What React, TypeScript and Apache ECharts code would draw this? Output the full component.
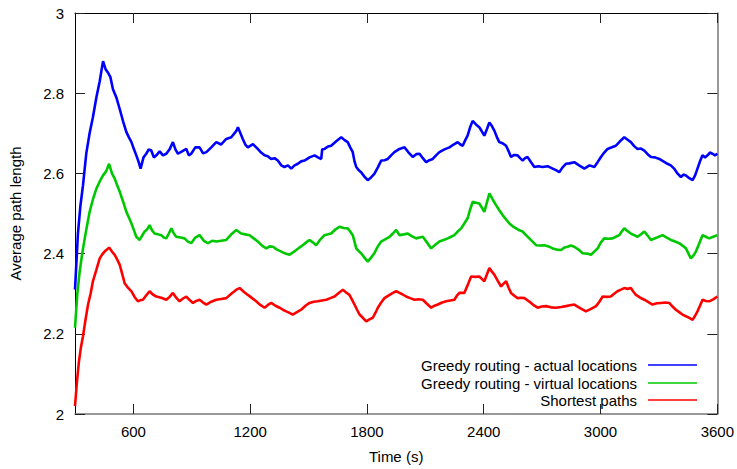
import React, { useEffect, useRef } from "react";
import * as echarts from "echarts";

const xTicks = [600, 1200, 1800, 2400, 3000, 3600];
const yTicks = [2, 2.2, 2.4, 2.6, 2.8, 3];

const seriesNames = [
  "Greedy routing - actual locations",
  "Greedy routing - virtual locations",
  "Shortest paths",
];
const seriesColors = ["#0000ff", "#00c800", "#ff0000"];

const actualLocations: [number, number][] = [
  [300,2.31],[315,2.45],[328,2.52],[341,2.57],[358,2.65],[375,2.70],[392,2.74],[410,2.79],[427,2.83],[444,2.88],[457,2.86],[470,2.851],[482,2.84],[495,2.81],[512,2.79],[530,2.76],[547,2.73],[564,2.703],[577,2.69],[590,2.678],[603,2.66],[615,2.645],[626,2.63],[637,2.612],[652,2.64],[666,2.649],[679,2.66],[692,2.657],[705,2.64],[718,2.645],[735,2.655],[752,2.645],[769,2.649],[786,2.66],[803,2.678],[816,2.66],[829,2.649],[850,2.655],[872,2.661],[885,2.645],[897,2.649],[918,2.665],[940,2.665],[958,2.65],[975,2.653],[1000,2.665],[1026,2.678],[1050,2.672],[1077,2.686],[1103,2.69],[1129,2.706],[1137,2.715],[1150,2.70],[1162,2.686],[1175,2.672],[1188,2.665],[1214,2.673],[1239,2.661],[1256,2.652],[1274,2.645],[1290,2.643],[1308,2.636],[1325,2.638],[1342,2.632],[1360,2.62],[1376,2.616],[1394,2.62],[1411,2.612],[1428,2.62],[1445,2.624],[1462,2.63],[1479,2.632],[1505,2.64],[1531,2.645],[1548,2.64],[1565,2.636],[1570,2.66],[1582,2.661],[1600,2.667],[1616,2.669],[1642,2.68],[1668,2.69],[1685,2.683],[1701,2.678],[1714,2.665],[1727,2.653],[1736,2.63],[1745,2.616],[1758,2.608],[1770,2.603],[1787,2.592],[1804,2.583],[1821,2.59],[1838,2.599],[1856,2.615],[1873,2.632],[1890,2.633],[1907,2.636],[1924,2.645],[1941,2.653],[1967,2.661],[1993,2.665],[2014,2.652],[2035,2.641],[2053,2.648],[2070,2.649],[2087,2.638],[2104,2.628],[2121,2.633],[2138,2.636],[2155,2.645],[2172,2.653],[2198,2.66],[2224,2.665],[2245,2.672],[2266,2.678],[2280,2.672],[2292,2.669],[2305,2.683],[2317,2.694],[2330,2.715],[2343,2.731],[2360,2.722],[2377,2.715],[2390,2.705],[2403,2.694],[2416,2.71],[2429,2.727],[2442,2.718],[2455,2.706],[2468,2.69],[2480,2.678],[2497,2.675],[2515,2.669],[2528,2.655],[2540,2.641],[2557,2.646],[2574,2.645],[2587,2.638],[2600,2.632],[2612,2.638],[2625,2.641],[2643,2.628],[2660,2.616],[2680,2.618],[2702,2.616],[2728,2.618],[2754,2.612],[2771,2.608],[2788,2.603],[2805,2.615],[2822,2.624],[2840,2.625],[2865,2.628],[2890,2.62],[2917,2.612],[2943,2.62],[2968,2.616],[2985,2.628],[3002,2.641],[3019,2.652],[3036,2.661],[3058,2.665],[3079,2.669],[3100,2.68],[3122,2.69],[3139,2.684],[3156,2.678],[3173,2.668],[3190,2.661],[3208,2.662],[3225,2.657],[3242,2.648],[3259,2.641],[3280,2.64],[3302,2.636],[3323,2.63],[3344,2.624],[3361,2.62],[3378,2.612],[3395,2.60],[3413,2.591],[3426,2.597],[3439,2.595],[3456,2.588],[3473,2.583],[3486,2.595],[3498,2.612],[3511,2.63],[3524,2.645],[3537,2.64],[3550,2.645],[3562,2.652],[3575,2.649],[3588,2.645],[3600,2.649],
];

const virtualLocations: [number, number][] = [
  [300,2.215],[312,2.30],[324,2.355],[337,2.40],[350,2.438],[362,2.47],[375,2.504],[392,2.535],[410,2.562],[427,2.58],[444,2.595],[460,2.605],[475,2.624],[490,2.60],[504,2.587],[517,2.57],[530,2.554],[547,2.53],[564,2.504],[577,2.49],[590,2.475],[603,2.458],[615,2.442],[632,2.434],[645,2.445],[658,2.455],[670,2.46],[683,2.471],[696,2.458],[709,2.45],[726,2.448],[743,2.446],[756,2.44],[769,2.438],[782,2.45],[795,2.463],[808,2.45],[820,2.442],[842,2.44],[863,2.438],[880,2.43],[897,2.426],[918,2.44],[940,2.446],[962,2.432],[983,2.426],[1005,2.432],[1026,2.43],[1051,2.432],[1077,2.434],[1103,2.448],[1129,2.459],[1154,2.45],[1175,2.448],[1197,2.446],[1218,2.438],[1239,2.43],[1261,2.42],[1283,2.413],[1300,2.418],[1317,2.417],[1338,2.41],[1360,2.405],[1381,2.40],[1402,2.397],[1420,2.403],[1437,2.409],[1453,2.415],[1470,2.421],[1488,2.428],[1505,2.434],[1522,2.428],[1539,2.421],[1560,2.435],[1582,2.446],[1600,2.448],[1616,2.45],[1637,2.46],[1659,2.467],[1680,2.464],[1701,2.463],[1714,2.455],[1727,2.446],[1736,2.43],[1745,2.413],[1758,2.406],[1770,2.401],[1787,2.39],[1804,2.38],[1821,2.39],[1838,2.401],[1856,2.418],[1873,2.43],[1895,2.436],[1916,2.442],[1933,2.45],[1950,2.459],[1967,2.446],[1990,2.448],[2010,2.45],[2032,2.443],[2053,2.438],[2070,2.44],[2087,2.442],[2108,2.428],[2130,2.413],[2151,2.422],[2172,2.43],[2194,2.434],[2215,2.438],[2232,2.442],[2249,2.446],[2266,2.455],[2284,2.463],[2300,2.475],[2317,2.488],[2330,2.51],[2343,2.529],[2360,2.527],[2377,2.525],[2390,2.515],[2403,2.504],[2416,2.527],[2429,2.55],[2446,2.535],[2463,2.521],[2480,2.508],[2497,2.496],[2515,2.485],[2532,2.475],[2549,2.468],[2566,2.463],[2583,2.458],[2600,2.455],[2617,2.446],[2634,2.438],[2651,2.43],[2669,2.421],[2690,2.42],[2712,2.421],[2733,2.418],[2754,2.413],[2775,2.41],[2797,2.409],[2814,2.415],[2831,2.417],[2848,2.42],[2865,2.417],[2887,2.41],[2908,2.401],[2930,2.40],[2951,2.397],[2968,2.405],[2985,2.413],[3002,2.428],[3019,2.438],[3040,2.437],[3062,2.438],[3079,2.442],[3096,2.446],[3109,2.455],[3122,2.463],[3139,2.456],[3156,2.45],[3173,2.446],[3190,2.442],[3208,2.448],[3225,2.455],[3242,2.445],[3259,2.434],[3290,2.44],[3319,2.446],[3340,2.44],[3362,2.434],[3383,2.43],[3404,2.426],[3421,2.42],[3439,2.413],[3452,2.40],[3464,2.388],[3477,2.395],[3490,2.405],[3507,2.425],[3524,2.446],[3541,2.442],[3558,2.438],[3579,2.442],[3600,2.446],
];

const shortestPaths: [number, number][] = [
  [300,2.02],[310,2.08],[320,2.13],[330,2.165],[341,2.194],[354,2.235],[367,2.273],[380,2.30],[392,2.331],[410,2.36],[427,2.388],[440,2.398],[452,2.405],[464,2.41],[475,2.415],[490,2.405],[504,2.397],[517,2.385],[530,2.372],[542,2.35],[555,2.326],[572,2.315],[590,2.306],[606,2.292],[623,2.281],[636,2.284],[649,2.285],[666,2.296],[683,2.306],[700,2.298],[718,2.293],[743,2.29],[769,2.285],[786,2.292],[803,2.302],[820,2.29],[837,2.281],[855,2.288],[872,2.293],[889,2.284],[906,2.277],[923,2.282],[940,2.285],[958,2.278],[975,2.273],[1000,2.28],[1026,2.285],[1051,2.287],[1077,2.289],[1103,2.30],[1129,2.31],[1146,2.314],[1167,2.305],[1188,2.297],[1210,2.289],[1231,2.281],[1252,2.272],[1274,2.265],[1291,2.272],[1308,2.277],[1330,2.27],[1351,2.265],[1368,2.26],[1385,2.256],[1402,2.252],[1419,2.248],[1440,2.254],[1462,2.26],[1484,2.27],[1505,2.277],[1526,2.28],[1547,2.281],[1569,2.283],[1591,2.285],[1612,2.289],[1633,2.293],[1655,2.302],[1676,2.31],[1693,2.303],[1710,2.297],[1723,2.285],[1736,2.273],[1749,2.26],[1762,2.248],[1779,2.24],[1796,2.231],[1813,2.236],[1830,2.24],[1843,2.252],[1856,2.265],[1873,2.278],[1890,2.289],[1912,2.296],[1933,2.302],[1950,2.306],[1967,2.302],[1984,2.298],[2001,2.293],[2022,2.289],[2044,2.285],[2065,2.286],[2087,2.285],[2108,2.275],[2130,2.265],[2147,2.27],[2164,2.273],[2186,2.278],[2207,2.281],[2228,2.283],[2249,2.285],[2262,2.295],[2275,2.302],[2300,2.302],[2318,2.322],[2335,2.343],[2356,2.342],[2377,2.343],[2390,2.337],[2403,2.331],[2416,2.348],[2429,2.364],[2442,2.355],[2455,2.347],[2472,2.332],[2489,2.318],[2502,2.325],[2515,2.331],[2528,2.315],[2540,2.302],[2557,2.295],[2574,2.289],[2591,2.29],[2609,2.289],[2626,2.283],[2643,2.277],[2660,2.27],[2677,2.265],[2698,2.268],[2720,2.269],[2745,2.266],[2771,2.265],[2797,2.267],[2822,2.269],[2843,2.271],[2865,2.273],[2895,2.264],[2925,2.256],[2951,2.262],[2977,2.269],[2994,2.28],[3011,2.293],[3032,2.292],[3053,2.293],[3070,2.30],[3087,2.306],[3105,2.31],[3122,2.314],[3139,2.312],[3156,2.314],[3169,2.305],[3182,2.297],[3204,2.29],[3225,2.285],[3246,2.279],[3267,2.273],[3290,2.276],[3310,2.277],[3332,2.278],[3353,2.277],[3370,2.268],[3387,2.26],[3404,2.254],[3421,2.248],[3447,2.242],[3473,2.235],[3486,2.245],[3498,2.256],[3511,2.27],[3524,2.285],[3541,2.282],[3558,2.281],[3579,2.286],[3600,2.293],
];

const FONT = "'Liberation Sans', Arial, sans-serif";
const FS = 15;

export default function App() {
  const ref = useRef<HTMLDivElement>(null);
  useEffect(() => {
    document.body.style.margin = "0";
    if (!ref.current) return;
    const chart = echarts.init(ref.current, undefined, { renderer: "svg" });
    const allData = [actualLocations, virtualLocations, shortestPaths];
    const legendY = [365, 383, 400];
    const graphic: any[] = [];
    seriesNames.forEach((n, i) => {
      graphic.push({
        type: "text",
        x: 637,
        y: legendY[i],
        style: {
          text: n,
          textAlign: "right",
          textVerticalAlign: "middle",
          font: `${FS}px ${FONT}`,
          fill: "#000",
        },
      });
      graphic.push({
        type: "line",
        shape: { x1: 648, y1: legendY[i], x2: 697, y2: legendY[i] },
        style: { stroke: seriesColors[i], lineWidth: 1.6 },
      });
    });
    const tickStyle = { color: "#222", width: 1 };
    chart.setOption({
      animation: false,
      backgroundColor: "#fff",
      grid: { left: 75, right: 18, top: 13, bottom: 52, containLabel: false },
      xAxis: [
        {
          type: "value",
          position: "bottom",
          min: 300,
          max: 3600,
          name: "Time (s)",
          nameLocation: "middle",
          nameGap: 35,
          nameTextStyle: { fontFamily: FONT, fontSize: FS, color: "#000" },
          axisLine: { show: true, onZero: false, lineStyle: { color: "#777", width: 1.5 } },
          axisTick: { show: true, inside: true, length: 10, customValues: xTicks, lineStyle: tickStyle },
          axisLabel: {
            customValues: xTicks,
            fontFamily: FONT,
            fontSize: FS,
            color: "#000",
            margin: 10,
            formatter: (v: number) => String(Math.round(v)),
          },
          splitLine: { show: false },
        },
        {
          type: "value",
          position: "top",
          min: 300,
          max: 3600,
          axisLine: { show: true, onZero: false, lineStyle: { color: "#000", width: 1 } },
          axisTick: { show: true, inside: true, length: 10, customValues: xTicks, lineStyle: tickStyle },
          axisLabel: { show: false },
          splitLine: { show: false },
        },
      ],
      yAxis: [
        {
          type: "value",
          position: "left",
          min: 2,
          max: 3,
          interval: 0.2,
          name: "Average path length",
          nameLocation: "middle",
          nameGap: 52,
          nameTextStyle: { fontFamily: FONT, fontSize: FS, color: "#000" },
          axisLine: { show: true, onZero: false, lineStyle: { color: "#000", width: 1 } },
          axisTick: { show: true, inside: true, length: 10, lineStyle: tickStyle },
          axisLabel: {
            fontFamily: FONT,
            fontSize: FS,
            color: "#000",
            margin: 11,
            formatter: (v: number) => {
              const t = yTicks.find((y) => Math.abs(y - v) < 1e-6);
              return t === undefined ? "" : String(t);
            },
          },
          splitLine: { show: false },
        },
        {
          type: "value",
          position: "right",
          min: 2,
          max: 3,
          interval: 0.2,
          axisLine: { show: true, onZero: false, lineStyle: { color: "#777", width: 1.5 } },
          axisTick: { show: true, inside: true, length: 10, lineStyle: tickStyle },
          axisLabel: { show: false },
          splitLine: { show: false },
        },
      ],
      series: allData.map((d, i) => ({
        name: seriesNames[i],
        type: "line",
        data: d,
        showSymbol: false,
        symbol: "none",
        xAxisIndex: 0,
        yAxisIndex: 0,
        lineStyle: { color: seriesColors[i], width: 2.6 },
        itemStyle: { color: seriesColors[i] },
        z: 3 + i,
      })),
      graphic,
    });
    return () => chart.dispose();
  }, []);
  return <div ref={ref} style={{ width: 737, height: 469 }} />;
}
